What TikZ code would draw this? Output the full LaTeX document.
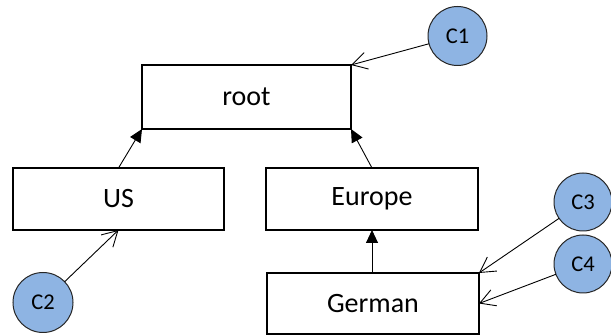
\documentclass[tikz,border=0pt]{standalone}
\usepackage{fontspec}
\setmainfont{Carlito}
\usetikzlibrary{arrows.meta}
\definecolor{cfill}{HTML}{8EB4E3}
\begin{document}
\begin{tikzpicture}[x=1pt,y=-1pt,
  box/.style={draw=black,line width=2.6pt,fill=white,inner sep=0pt,outer sep=0pt,font=\fontsize{28}{30}\selectfont},
  cnode/.style={circle,draw=black!85,line width=1pt,fill=cfill,inner sep=0pt,outer sep=0pt,font=\fontsize{22.5}{24}\selectfont},
  tree/.style={line width=0.9pt,-{Triangle[length=13pt,width=12pt]}},
  ptr/.style={line width=0.9pt,-{Straight Barb[length=15pt,width=17pt,line width=0.9pt]}}]
\useasboundingbox (0,0) rectangle (611,336);
\node[box,minimum width=209pt,minimum height=64pt] (root) at (246.5,97) {root};
\node[box,minimum width=211pt,minimum height=62pt] (us) at (118.5,199) {US};
\node[box,minimum width=212pt,minimum height=62pt] (eu) at (372,199) {Europe};
\node[box,minimum width=212pt,minimum height=61pt] (de) at (373,303.5) {German};
\node[cnode,minimum size=59pt] (c1) at (457.5,36) {C1};
\node[cnode,minimum size=60pt] (c2) at (43,302.5) {C2};
\node[cnode,minimum size=58pt] (c3) at (583,202) {C3};
\node[cnode,minimum size=58pt] (c4) at (583,264) {C4};
\draw[tree] (us.north) -- (root.south west);
\draw[tree] (eu.north) -- (root.south east);
\draw[tree] (de.north -| eu.south) -- (eu.south);
\draw[ptr] (c1) -- (root.north east);
\draw[ptr] (c2) -- (us.south);
\draw[ptr] (c3) -- (de.north east);
\draw[ptr] (c4) -- (de.east);
\end{tikzpicture}
\end{document}
